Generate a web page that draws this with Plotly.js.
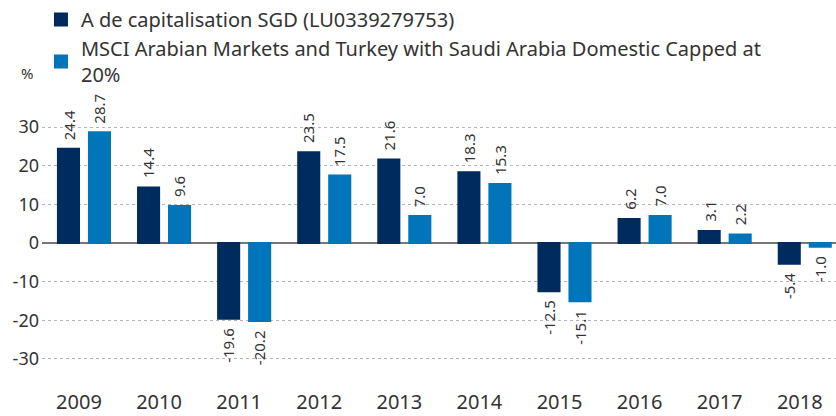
<!DOCTYPE html>
<html>
<head>
<meta charset="utf-8">
<script src="https://cdn.plot.ly/plotly-3.0.1.min.js"></script>
<style>html,body{margin:0;padding:0;background:#fff;}#chart{width:836px;height:416px;}</style>
</head>
<body>
<div id="chart"></div>
<script>
const years = ["2009","2010","2011","2012","2013","2014","2015","2016","2017","2018"];
const fundValues = [24.4, 14.4, -19.6, 23.5, 21.6, 18.3, -12.5, 6.2, 3.1, -5.4];
const indexValues = [28.7, 9.6, -20.2, 17.5, 7.0, 15.3, -15.1, 7.0, 2.2, -1.0];
const fundName = "A de capitalisation SGD (LU0339279753)";
const indexName = "MSCI Arabian Markets and Turkey with Saudi Arabia Domestic Capped at<br>20%";
const yTicks = [-30, -20, -10, 0, 10, 20, 30];

const font = "Noto Sans, Open Sans, sans-serif";
const fundColor = "#002B5E";
const indexColor = "#0075B9";
const common = {
  type: "bar",
  x: years,
  cliponaxis: false,
  hoverinfo: "skip"
};
const traces = [
  Object.assign({}, common, {y: fundValues, name: fundName, marker: {color: fundColor, line: {color: fundColor, width: 2}}}),
  Object.assign({}, common, {y: indexValues, name: indexName, marker: {color: indexColor, line: {color: indexColor, width: 2}}})
];

// value labels, rotated, placed beyond the end of each bar
const annotations = [];
const series = [{vals: fundValues, dx: -15.5}, {vals: indexValues, dx: 15.5}];
series.forEach(function (s) {
  s.vals.forEach(function (v, i) {
    annotations.push({
      x: i, y: v, xref: "x", yref: "y",
      text: v.toFixed(1), textangle: -90,
      xshift: s.dx, yshift: v >= 0 ? 7 : -7,
      xanchor: "center", yanchor: v >= 0 ? "bottom" : "top",
      showarrow: false,
      font: {family: font, size: 15, color: "#333333"}
    });
  });
});
annotations.push({
  text: "%", xref: "paper", yref: "paper",
  x: -0.0183, y: 1.111, xanchor: "center", yanchor: "middle",
  showarrow: false, font: {family: font, size: 15, color: "#333333"}
});

const layout = {
  width: 836, height: 416,
  margin: {l: 42, r: 0, t: 104, b: 34, autoexpand: false},
  paper_bgcolor: "#fff", plot_bgcolor: "#fff",
  font: {family: font, color: "#333333"},
  barmode: "group",
  bargap: 0.226,
  bargroupgap: 0.32,
  showlegend: true,
  legend: {
    xref: "container", yref: "container",
    x: 0.049, y: 1.005, xanchor: "left", yanchor: "top",
    font: {family: font, size: 20, color: "#333333"},
    itemwidth: 30, tracegroupgap: 2,
    bgcolor: "rgba(0,0,0,0)"
  },
  xaxis: {
    type: "category",
    range: [-0.524, 9.39],
    showgrid: false, zeroline: false, showline: false,
    ticks: "",
    tickfont: {family: font, size: 20, color: "#333333"},
    ticklabelstandoff: 6,
    ticklabelshift: -5,
    fixedrange: true
  },
  yaxis: {
    range: [-36, 36],
    tickvals: yTicks,
    ticktext: yTicks.map(String),
    showgrid: true, gridcolor: "#b5b5b5", griddash: "dot", gridwidth: 1,
    zeroline: true, zerolinecolor: "#777777", zerolinewidth: 1.5,
    showline: false, ticks: "",
    tickfont: {family: font, size: 18, color: "#333333"},
    ticklabelstandoff: 2,
    fixedrange: true
  },
  annotations: annotations
};
Plotly.newPlot("chart", traces, layout, {displayModeBar: false, staticPlot: true});
</script>
</body>
</html>
